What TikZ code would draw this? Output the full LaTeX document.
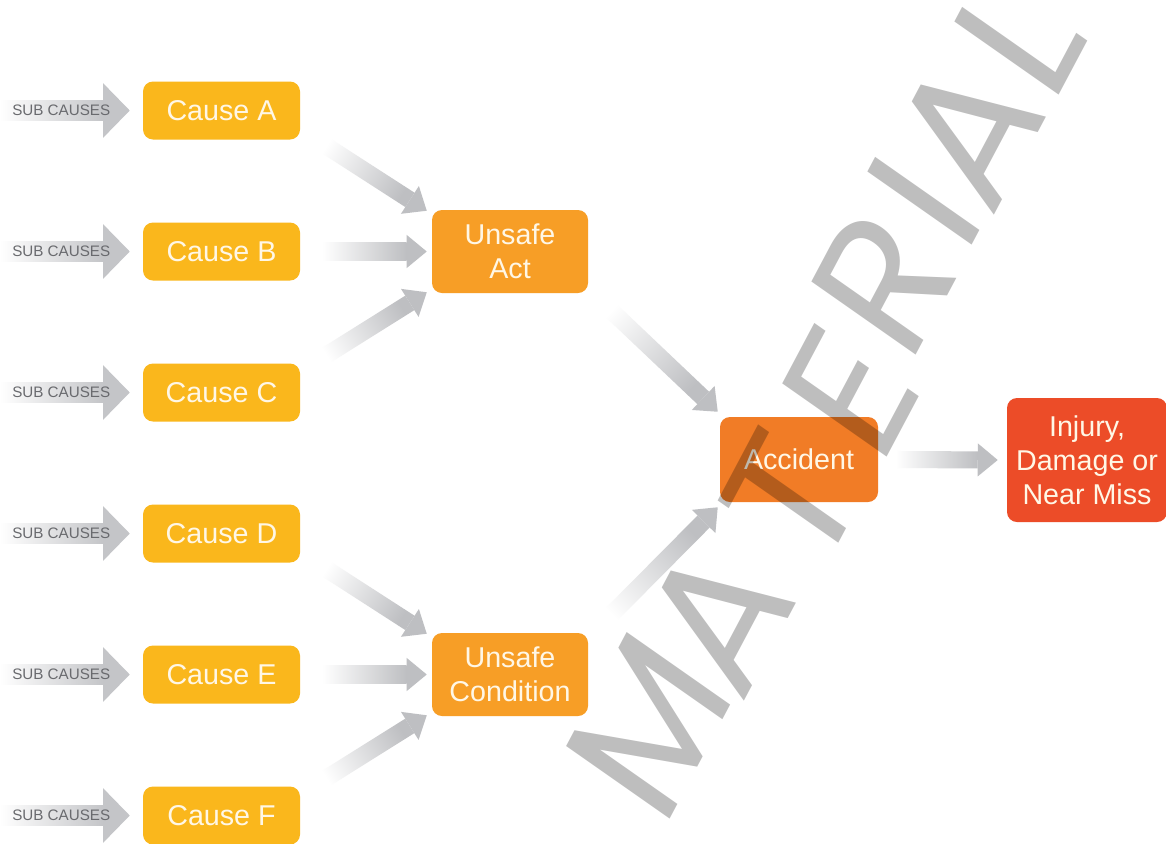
\documentclass[tikz,border=0pt]{standalone}
\usepackage{fontspec}
\setmainfont{Liberation Sans}
\newfontfamily\wmfont{Poppins}
\usetikzlibrary{calc}
\definecolor{causey}{RGB}{250,183,28}
\definecolor{unsafeo}{RGB}{247,158,38}
\definecolor{accido}{RGB}{241,124,38}
\definecolor{injr}{RGB}{236,76,40}
\definecolor{boxtxt}{RGB}{255,247,230}
\definecolor{argray}{RGB}{190,191,194}
\definecolor{subgray}{RGB}{196,197,200}
\definecolor{subtxt}{RGB}{105,106,110}
% fat shaded arrow: tail, tip, head length, head half width, body half width, colour
\newcommand\fatarrow[6]{%
  \coordinate (ft) at (#1);
  \coordinate (fh) at (#2);
  \coordinate (fn) at ($(fh)!#3!(ft)$);
  \pgfmathanglebetweenpoints{\pgfpointanchor{ft}{center}}{\pgfpointanchor{fh}{center}}%
  \pgfmathsetmacro\fshang{\pgfmathresult-90}%
  \shade[bottom color=white, top color=#6, shading angle=\fshang]
    ($(ft)!#5!90:(fh)$) -- ($(fn)!#5!90:(fh)$) -- ($(fn)!#5!-90:(fh)$) -- ($(ft)!#5!-90:(fh)$) -- cycle;
  \fill[#6] ($(fn)!#4!90:(fh)$) -- (fh) -- ($(fn)!#4!-90:(fh)$) -- cycle;
}
\tikzset{
  cbox/.style={draw=none, fill=causey, rounded corners=7.5pt, minimum width=117.75pt,
    minimum height=43.5pt, text=boxtxt, font=\fontsize{21.5}{25.5}\selectfont,
    inner sep=0pt, align=center},
  ubox/.style={cbox, fill=unsafeo, minimum width=117pt, minimum height=62.25pt},
  abox/.style={cbox, fill=accido, minimum width=118.5pt, minimum height=63.75pt},
  ibox/.style={cbox, fill=injr, minimum width=120pt, minimum height=93pt},
  subtext/.style={text=subtxt, font=\fontsize{11.4}{13}\selectfont, inner sep=0pt, anchor=west},
  wmark/.style={cm={0.469,0.883,-0.819,0.574,(0,0)}, anchor=base, inner sep=0pt,
    text=black, text opacity=0.255, font=\wmfont\fontsize{137}{137}\selectfont},
}
\begin{document}
\begin{tikzpicture}[x=0.75pt, y=-0.75pt]
\useasboundingbox (0,0) rectangle (1166,843);
\clip (0,0) rectangle (1166,843);
\fill[white] (0,0) rectangle (1166,843);

% boxes
\node[cbox] (A) at (221.5,110.5) {Cause A};
\node[cbox] (B) at (221.5,251.5) {Cause B};
\node[cbox] (C) at (221.5,392.5) {Cause C};
\node[cbox] (D) at (221.5,533.5) {Cause D};
\node[cbox] (E) at (221.5,674.5) {Cause E};
\node[cbox] (F) at (221.5,815.5) {Cause F};
\node[ubox] (UA) at (510,251.5) {Unsafe\\Act};
\node[ubox] (UC) at (510,674.5) {Unsafe\\Condition};
\node[abox] (Acc) at (799,459.5) {Accident};
\node[ibox] (Inj) at (1087,460) {Injury,\\Damage or\\Near Miss};

% sub cause arrows
\foreach \n/\y in {A/110.5,B/251.5,C/392.5,D/533.5,E/674.5,F/815.5}{
  \coordinate (s\n) at (0,\y);
  \fatarrow{s\n}{$(\n.west)+(-13,0)$}{20pt}{20.5pt}{7.5pt}{subgray}
  \node[subtext] (t\n) at (12,\y) {SUB CAUSES};
}

% connectors
\fatarrow{$(A.south east)+(18,1)$}{$(UA.north west)+(-5,1)$}{15pt}{12.4pt}{6.4pt}{argray}
\fatarrow{$(B.east)+(22,0)$}{$(UA.west)+(-5,0)$}{15pt}{12.4pt}{6.4pt}{argray}
\fatarrow{$(C.north east)+(18,-3)$}{$(UA.south west)+(-5,-1)$}{15pt}{12.4pt}{6.4pt}{argray}
\fatarrow{$(D.south east)+(18,1)$}{$(UC.north west)+(-5,1)$}{15pt}{12.4pt}{6.4pt}{argray}
\fatarrow{$(E.east)+(22,0)$}{$(UC.west)+(-5,0)$}{15pt}{12.4pt}{6.4pt}{argray}
\fatarrow{$(F.north east)+(18,-3)$}{$(UC.south west)+(-5,-1)$}{15pt}{12.4pt}{6.4pt}{argray}
\fatarrow{$(UA.south east)+(12,7)$}{$(Acc.north west)+(-2,-5)$}{15pt}{12.4pt}{6.4pt}{argray}
\fatarrow{$(UC.north east)+(12,-7)$}{$(Acc.south west)+(-2,5)$}{15pt}{12.4pt}{6.4pt}{argray}
\fatarrow{$(Acc.east)+(17,0)$}{$(Inj.west)+(-9,0)$}{15pt}{12.4pt}{6.4pt}{argray}

% watermark, one letter at a time
\node[wmark] (wm1) at (700,762) {M};
\node[wmark] (wm2) at (770,652) {A};
\node[wmark] (wm3) at (843,536) {T};
\node[wmark] (wm4) at (902,428) {E};
\node[wmark] (wm5) at (936,318) {R};
\node[wmark] (wm6) at (976,238) {I};
\node[wmark] (wm7) at (1020,166) {A};
\node[wmark] (wm8) at (1071,73) {L};
\end{tikzpicture}
\end{document}
